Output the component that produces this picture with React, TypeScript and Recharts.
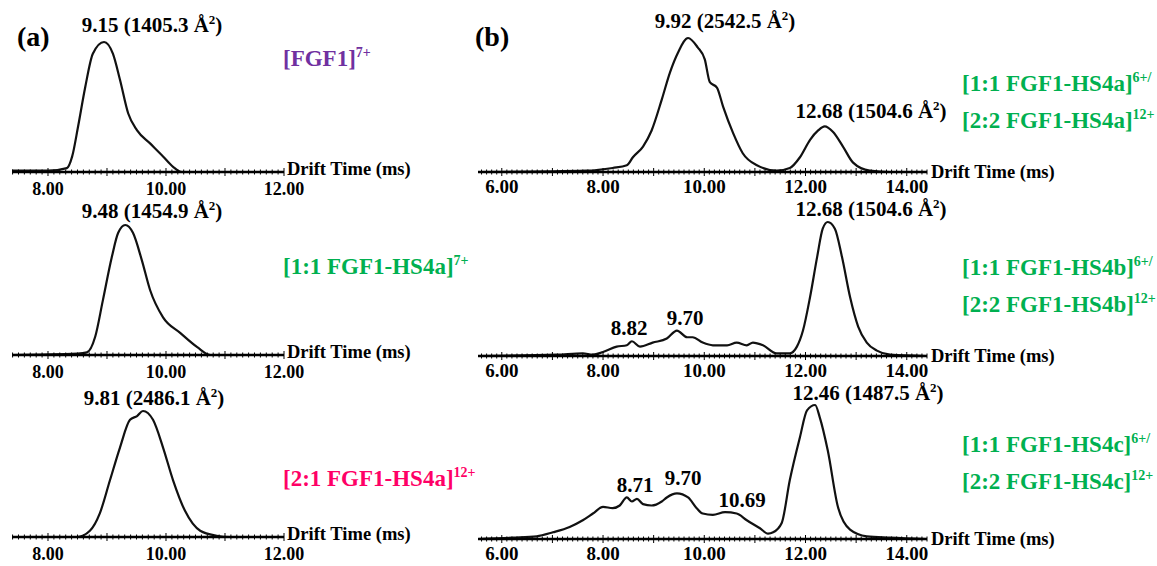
import React from 'react';
import { LineChart, Line, XAxis, YAxis } from 'recharts';

const FONT = '"Liberation Serif", "Times New Roman", serif';
const GREEN = '#00b050';

// (a) drift time (ms) and relative intensity (%)
const fgf1Drift = [7.39, 8.0, 8.32, 8.41, 8.51, 8.63, 8.76, 8.95, 9.1, 9.22, 9.36, 9.51, 9.73, 9.95, 10.12, 10.27, 11.0, 12.0];
const fgf1Intensity = [1, 1, 3, 12, 35, 65, 91, 100, 91, 71, 45, 32, 22, 12, 4, 0, 0, 0];

const hs4aMonoDrift = [7.39, 8.5, 8.66, 8.8, 8.93, 9.08, 9.19, 9.31, 9.44, 9.59, 9.73, 9.95, 10.24, 10.53, 10.75, 12.0];
const hs4aMonoIntensity = [0, 1, 2, 14, 42, 75, 94, 100, 94, 73, 50, 29, 17, 6, 0, 0];

const hs4aDimerDrift = [7.39, 8.49, 8.71, 8.88, 9.05, 9.22, 9.39, 9.51, 9.61, 9.78, 9.95, 10.12, 10.32, 10.58, 10.86, 11.08, 12.0];
const hs4aDimerIntensity = [0, 0, 5, 19, 45, 71, 93, 96, 100, 93, 71, 45, 21, 5, 1, 0, 0];

// (b)
const hs4aDrift = [5.53, 7.68, 8.19, 8.47, 8.59, 8.79, 8.96, 9.16, 9.32, 9.48, 9.68, 9.87, 10.01, 10.11, 10.25, 10.37, 10.57, 10.76, 11.04, 11.43, 11.69, 11.89, 12.09, 12.25, 12.38, 12.54, 12.74, 12.94, 13.27, 13.67, 14.4];
const hs4aIntensity = [0, 1, 3, 5, 11, 19, 31, 54, 74, 89, 100, 93, 84, 67, 63, 49, 29, 14, 5, 1, 3, 11, 24, 31, 34, 30, 19, 7, 1, 0, 0];

const hs4bDrift = [5.53, 7.09, 7.6, 7.8, 8.0, 8.27, 8.47, 8.57, 8.73, 8.98, 9.26, 9.46, 9.66, 9.77, 9.97, 10.17, 10.45, 10.64, 10.84, 10.96, 11.16, 11.43, 11.69, 11.83, 11.95, 12.09, 12.23, 12.34, 12.44, 12.58, 12.72, 12.88, 13.04, 13.21, 13.41, 13.67, 14.4];
const hs4bIntensity = [0, 1, 2, 1, 3, 7, 8, 11, 7, 10, 13, 19, 14, 14, 10, 8, 8, 10, 8, 10, 8, 2, 2, 7, 19, 44, 74, 95, 100, 95, 74, 44, 22, 10, 4, 1, 0];

const hs4cDrift = [5.53, 6.22, 6.69, 7.01, 7.34, 7.6, 7.8, 8.0, 8.19, 8.33, 8.47, 8.57, 8.67, 8.79, 8.96, 9.16, 9.26, 9.46, 9.68, 9.85, 9.97, 10.17, 10.41, 10.64, 10.84, 11.1, 11.26, 11.36, 11.53, 11.69, 11.89, 12.03, 12.19, 12.28, 12.44, 12.64, 12.88, 13.21, 13.67, 14.4];
const hs4cIntensity = [0, 1, 2, 5, 9, 14, 19, 24, 23, 25, 31, 28, 30, 26, 25, 28, 31, 34, 31, 23, 19, 18, 20, 19, 14, 8, 4, 5, 12, 44, 76, 96, 100, 91, 66, 24, 7, 2, 1, 0];

const ticksA = [8, 10, 12];
const ticksB = [6, 8, 10, 12, 14];

// peak annotations: drift time + CCS
const peakTimes = ['9.15', '9.48', '9.81', '9.92', '12.68', '12.68', '12.46'];
const peakCcs = ['1405.3', '1454.9', '2486.1', '2542.5', '1504.6', '1504.6', '1487.5'];
const minorPeaks = ['8.82', '9.70', '8.71', '9.70', '10.69'];

const speciesA = [
  { name: '[FGF1]', charge: '7+', color: '#7030a0' },
  { name: '[1:1 FGF1-HS4a]', charge: '7+', color: GREEN },
  { name: '[2:1 FGF1-HS4a]', charge: '12+', color: '#ff0066' },
];
const speciesB = ['HS4a', 'HS4b', 'HS4c'];

const PAD = 30;

function DriftTick(props: any) {
  const { x, y, payload, majors, fontSize, labelGap } = props;
  const v = payload.value;
  const major = majors.some((m: number) => Math.abs(m - v) < 1e-6);
  const whole = Math.abs(v - Math.round(v)) < 1e-6;
  const h = whole ? 4 : 2.5;
  return (
    <g>
      <line x1={x} x2={x} y1={y - h} y2={y + h} stroke="#000" strokeWidth={1} />
      {major && (
        <text x={x} y={y + labelGap} textAnchor="middle" fontFamily={FONT} fontWeight="bold" fontSize={fontSize} fill="#000">
          {v.toFixed(2)}
        </text>
      )}
    </g>
  );
}

function Trace({ drift, intensity, left, right, axisY, peakY, domain, majors, tickFont, labelGap }: any) {
  const data = drift.map((t: number, i: number) => ({ t, v: intensity[i] }));
  const top = 20;
  const bottom = 30;
  const minor: number[] = [];
  for (let k = Math.ceil(domain[0] * 10); k <= Math.floor(domain[1] * 10); k++) minor.push(k / 10);
  return (
    <div style={{ position: 'absolute', left: left - PAD, top: peakY - top }}>
      <LineChart
        width={right - left + PAD * 2}
        height={axisY - peakY + top + bottom}
        data={data}
        margin={{ top, right: PAD, bottom: 0, left: PAD }}
      >
        <XAxis
          type="number"
          dataKey="t"
          domain={domain}
          ticks={minor}
          interval={0}
          height={bottom}
          tickSize={0}
          tickMargin={0}
          tickLine={false}
          axisLine={{ stroke: '#000', strokeWidth: 2.5 }}
          tick={(p: any) => <DriftTick {...p} majors={majors} fontSize={tickFont} labelGap={labelGap} />}
          allowDataOverflow
        />
        <YAxis hide domain={[0, 100]} />
        <Line dataKey="v" type="monotone" stroke="#111" strokeWidth={2.2} dot={false} isAnimationActive={false} />
      </LineChart>
    </div>
  );
}

function PeakLabel({ x, y, i }: any) {
  return (
    <text x={x} y={y} textAnchor="middle" fontSize={21}>
      {peakTimes[i]} ({peakCcs[i]} Å<tspan fontSize={13} dy={-8}>2</tspan>
      <tspan dy={8}>)</tspan>
    </text>
  );
}

function Species({ x, y, name, charge, color, slash }: any) {
  return (
    <text x={x} y={y} fontSize={23} fill={color}>
      {name}
      <tspan fontSize={14} dy={-9}>{charge}</tspan>
      {slash ? <tspan fontSize={14}>/</tspan> : null}
      <tspan dy={9}></tspan>
    </text>
  );
}

export default function App() {
  const aLeft = 12, aRight = 284, aDomain = [7.39, 12.0];
  const bLeft = 478, bRight = 927, bDomain = [5.53, 14.4];
  return (
    <div style={{ position: 'absolute', left: 0, top: 0, width: 1157, height: 566, background: '#fff', overflow: 'hidden' }}>
      <Trace drift={fgf1Drift} intensity={fgf1Intensity} left={aLeft} right={aRight} axisY={172} peakY={42} domain={aDomain} majors={ticksA} tickFont={18} labelGap={23} />
      <Trace drift={hs4aMonoDrift} intensity={hs4aMonoIntensity} left={aLeft} right={aRight} axisY={355} peakY={225} domain={aDomain} majors={ticksA} tickFont={18} labelGap={23} />
      <Trace drift={hs4aDimerDrift} intensity={hs4aDimerIntensity} left={aLeft} right={aRight} axisY={537} peakY={411} domain={aDomain} majors={ticksA} tickFont={18} labelGap={23} />
      <Trace drift={hs4aDrift} intensity={hs4aIntensity} left={bLeft} right={bRight} axisY={172} peakY={38} domain={bDomain} majors={ticksB} tickFont={19} labelGap={21} />
      <Trace drift={hs4bDrift} intensity={hs4bIntensity} left={bLeft} right={bRight} axisY={356} peakY={222} domain={bDomain} majors={ticksB} tickFont={19} labelGap={21} />
      <Trace drift={hs4cDrift} intensity={hs4cIntensity} left={bLeft} right={bRight} axisY={539} peakY={405} domain={bDomain} majors={ticksB} tickFont={19} labelGap={21} />

      <svg width={1157} height={566} style={{ position: 'absolute', left: 0, top: 0, pointerEvents: 'none' }} fontFamily={FONT} fontWeight="bold" fill="#000">
        <text x={17} y={46} fontSize={28}>(a)</text>
        <text x={475} y={46} fontSize={28}>(b)</text>

        <PeakLabel x={152} y={32} i={0} />
        <PeakLabel x={152} y={218} i={1} />
        <PeakLabel x={154} y={405} i={2} />
        <PeakLabel x={725} y={28} i={3} />
        <PeakLabel x={871} y={118} i={4} />
        <PeakLabel x={871} y={216} i={5} />
        <PeakLabel x={868} y={400} i={6} />

        <text x={629} y={335} textAnchor="middle" fontSize={21}>{minorPeaks[0]}</text>
        <text x={685} y={325} textAnchor="middle" fontSize={21}>{minorPeaks[1]}</text>
        <text x={635} y={492} textAnchor="middle" fontSize={21}>{minorPeaks[2]}</text>
        <text x={683} y={485} textAnchor="middle" fontSize={21}>{minorPeaks[3]}</text>
        <text x={742} y={507} textAnchor="middle" fontSize={21}>{minorPeaks[4]}</text>

        {[175, 358, 540].map((y) => (
          <text key={'da' + y} x={287} y={y} fontSize={18.5}>Drift Time (ms)</text>
        ))}
        {[178, 362, 545].map((y) => (
          <text key={'db' + y} x={931} y={y} fontSize={18.5}>Drift Time (ms)</text>
        ))}

        {speciesA.map((s, i) => (
          <Species key={s.name} x={283} y={[66, 274, 486][i]} name={s.name} charge={s.charge} color={s.color} />
        ))}
        {speciesB.map((h, i) => (
          <g key={h}>
            <Species x={962} y={[91, 275, 452][i]} name={`[1:1 FGF1-${h}]`} charge="6+" color={GREEN} slash />
            <Species x={962} y={[128, 312, 489][i]} name={`[2:2 FGF1-${h}]`} charge="12+" color={GREEN} />
          </g>
        ))}
      </svg>
    </div>
  );
}
